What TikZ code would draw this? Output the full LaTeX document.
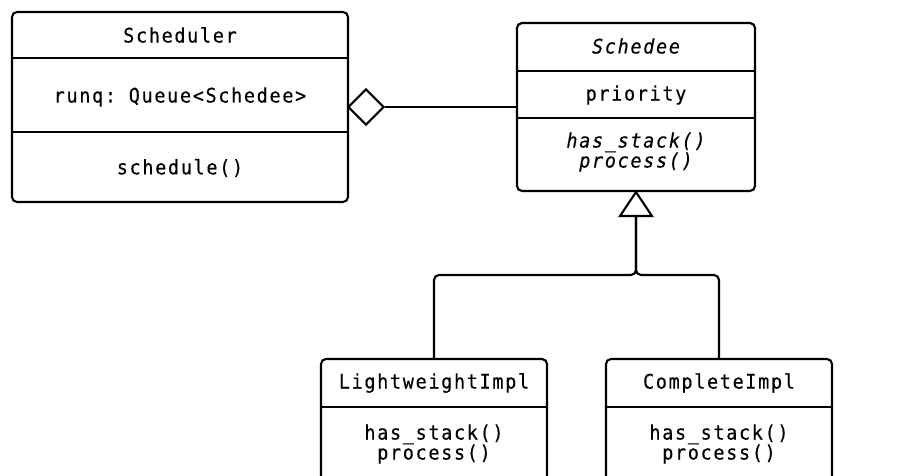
\documentclass[tikz,border=0pt]{standalone}
\usepackage{fontspec}
\setmonofont[FakeStretch=0.92, LetterSpace=8.6, FakeBold=0.4]{DejaVu Sans Mono}
\usetikzlibrary{shapes.geometric}

\begin{document}
\begin{tikzpicture}[x=1pt, y=-1pt, line width=2.1pt,
  umlbox/.style={draw, rounded corners=5pt, fill=white, inner sep=0pt},
  lbl/.style={font=\ttfamily\fontsize{20}{20}\selectfont, align=center, inner sep=0pt},
  conn/.style={draw, rounded corners=5pt},
]
\useasboundingbox[fill=white] (0,0) rectangle (914,476);
\clip (0,0) rectangle (914,476);

% Scheduler class
\node[umlbox, minimum width=336pt, minimum height=190pt] (sched) at (180,107) {};
\draw (sched.west |- 0,58) -- (sched.east |- 0,58);
\draw (sched.west |- 0,132) -- (sched.east |- 0,132);
\node[lbl] (schedname) at (180,35) {Scheduler};
\node[lbl] (schedattr) at (180,97) {runq: Queue<Schedee>};
\node[lbl] (schedop) at (180,168) {schedule()};

% Abstract Schedee class
\node[umlbox, minimum width=238pt, minimum height=168pt] (schedee) at (636,107) {};
\draw (schedee.west |- 0,71) -- (schedee.east |- 0,71);
\draw (schedee.west |- 0,118) -- (schedee.east |- 0,118);
\node[lbl] (schedeename) at (636,46) {\itshape Schedee};
\node[lbl] (schedeeattr) at (636,95) {priority};
\node[lbl] (schedeeops) at (636,152) {\itshape has\_stack()\\\itshape process()};

% Concrete implementations
\node[umlbox, minimum width=226pt, minimum height=126pt] (lw) at (434,422) {};
\draw (lw.west |- 0,407) -- (lw.east |- 0,407);
\node[lbl] (lwname) at (434,383) {LightweightImpl};
\node[lbl] (lwops) at (434,444) {has\_stack()\\process()};

\node[umlbox, minimum width=226pt, minimum height=126pt] (ci) at (719,422) {};
\draw (ci.west |- 0,407) -- (ci.east |- 0,407);
\node[lbl] (ciname) at (719,383) {CompleteImpl};
\node[lbl] (ciops) at (719,444) {has\_stack()\\process()};

% Aggregation: Scheduler holds Schedee objects
\node[draw, diamond, fill=white, minimum width=36pt, minimum height=36pt,
      inner sep=0pt, shape aspect=1] (agg) at (366,107) {};
\draw (agg.east) -- (schedee.west);

% Generalization: both implementations extend Schedee
\coordinate (tribase) at ([yshift=-24pt]schedee.south);
\coordinate (junc) at (636,275);
\draw[conn] (lw.north) |- (junc) -- (tribase);
\draw[conn] (ci.north) |- (junc) -- (tribase);
\draw[fill=white, line join=miter] (schedee.south) -- ++(-16,24) -- ++(32,0) -- cycle;
\end{tikzpicture}
\end{document}
